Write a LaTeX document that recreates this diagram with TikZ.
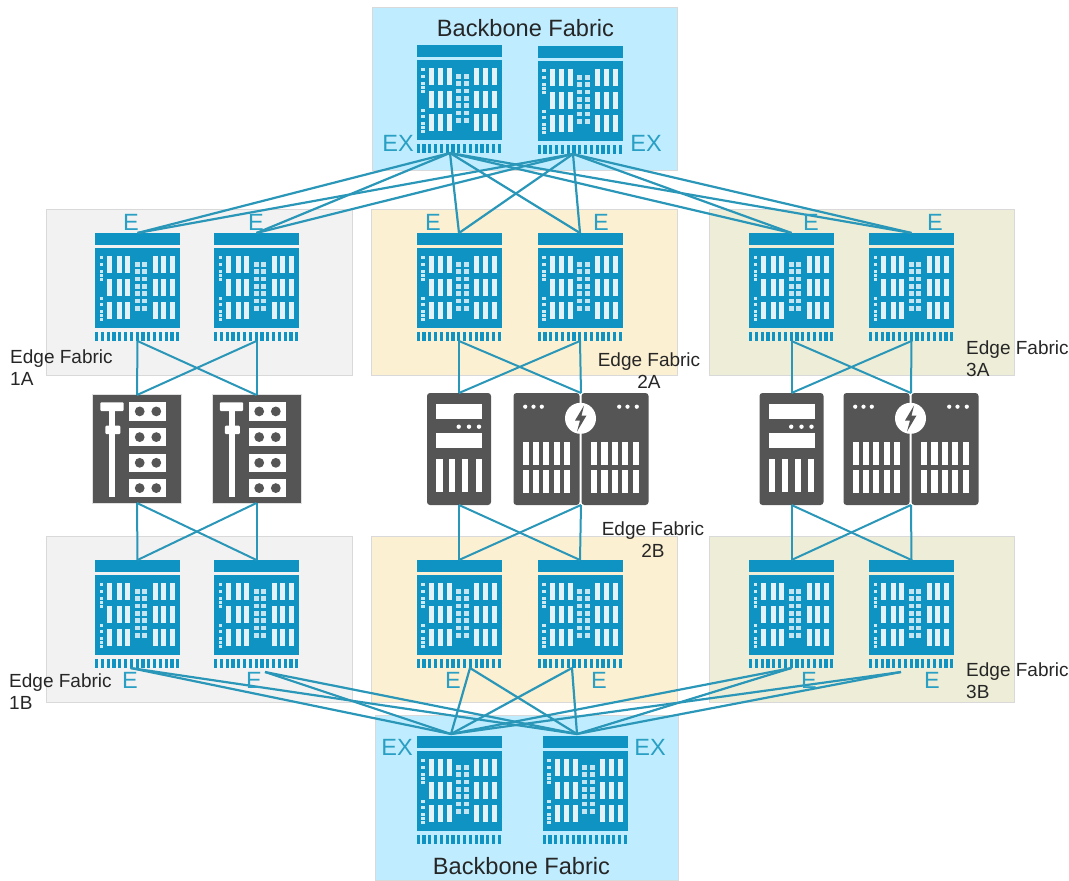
\documentclass[tikz,border=0pt]{standalone}
\usepackage{fontspec}
\setmainfont{Liberation Sans}
\definecolor{swc}{HTML}{0F93C2}
\definecolor{linkc}{HTML}{2A96B8}
\definecolor{labc}{HTML}{2A9FC4}
\definecolor{darkc}{HTML}{555555}
\definecolor{bluebg}{HTML}{BFEDFF}
\definecolor{graybg}{HTML}{F2F2F2}
\definecolor{orangebg}{HTML}{FCF0D2}
\definecolor{olivebg}{HTML}{EEEED8}
\tikzset{
  region/.style={rectangle,draw=black!15,line width=0.8pt,inner sep=0pt},
  devbox/.style={rectangle,inner sep=0pt,outer sep=0pt,minimum width=#1},
  link/.style={draw=linkc,line width=2.2pt},
  thinlink/.style={draw=linkc,line width=2pt},
  tag/.style={text=labc,font=\fontsize{23.5}{26}\selectfont,inner sep=0pt},
  fablabel/.style={text=black!85,font=\fontsize{19}{22}\selectfont,inner sep=0pt,align=left,anchor=north west},
  fabcenter/.style={text=black!85,font=\fontsize{19}{22}\selectfont,inner sep=0pt,align=center,anchor=north},
  bigtitle/.style={text=black!85,font=\fontsize{23.6}{26}\selectfont,inner sep=0pt},
  swpic/.pic={
    \fill[swc] (0,0) rectangle (85,12);
    \fill[swc] (0,15) rectangle (85,95);
    \foreach \tx in {0,5.8,...,82} \fill[swc] (\tx,99) rectangle ++(3.2,9);
    \foreach \bx in {12,21.5,30.3,57.7,66.3,75}
      \foreach \by in {23,46,69} \fill[white!88!swc] (\bx,\by) rectangle ++(5,17);
    \foreach \gx in {39.7,47.3}
      \foreach \gy in {29,36.3,43.6,50.9,58.2,65.5,72.8} \fill[white!75!swc] (\gx,\gy) rectangle ++(4.8,4.8);
    \foreach \ly/\lh in {23/2.5,30/2.5,37/3,41/3,45/3,64/2.5,70/2.5,77/3,81/3,85/3}
      \fill[white!80!swc] (4.7,\ly) rectangle ++(3.6,\lh);
  },
  rackpic/.pic={
    \fill[darkc] (0,0) rectangle (88,108);
    \draw[black!12,line width=0.8pt] (-0.6,-0.6) rectangle (88.6,108.6);
    \fill[white,rounded corners=1pt] (7.3,7.3) rectangle (30.7,16);
    \fill[white] (16.3,16) rectangle (22,101.7);
    \fill[white,rounded corners=1pt] (12.3,30.7) rectangle (27.3,39);
    \foreach \my in {7.3,33,58.7,84} {
      \fill[white] (36,\my) rectangle ++(37,18.3);
      \fill[darkc] (46.7,\my+9.1) circle (4.9);
      \fill[darkc] (63.3,\my+9.1) circle (4.9);
    }
  },
  serverpic/.pic={
    \fill[darkc,rounded corners=3pt] (0,0) rectangle (64,112);
    \fill[white] (9.3,11.3) rectangle (55,26);
    \fill[white] (9.3,40) rectangle (55,55.3);
    \foreach \dx in {31.7,42,52} \fill[white] (\dx,33.7) circle (2.2);
    \foreach \bx in {9.3,22,35,48.5} \fill[white] (\bx,66) rectangle ++(6.3,33.3);
  },
  dualpic/.pic={
    \fill[darkc,rounded corners=3pt] (0,0) rectangle (66,112);
    \fill[darkc,rounded corners=3pt] (68,0) rectangle (135,112);
    \foreach \dx in {11.7,20,28.3} \fill[white] (\dx,13.7) circle (2.1);
    \foreach \dx in {105.7,114,123.3} \fill[white] (\dx,13.7) circle (2.1);
    \foreach \bx in {9,19.3,29.3,40,50.3,77.3,87.7,98,108.3,119}
      \foreach \by in {49.3,77.3} \fill[white] (\bx,\by) rectangle ++(6.3,23);
    \fill[white] (67,25.3) circle (15.5);
    \fill[darkc] (70.5,12.5) -- (61.5,27.5) -- (66.5,27.5) -- (63.5,38.5) -- (73,22.5) -- (68,22.5) -- cycle;
  },
}
\newcommand{\swnode}[3]{%
  \node[devbox=85,minimum height=108] (#1) at (#2,#3) {};
  \pic at (#2-42.5,#3-54) {swpic};}
\newcommand{\racknode}[3]{%
  \node[devbox=88,minimum height=108] (#1) at (#2,#3) {};
  \pic at (#2-44,#3-54) {rackpic};}
\newcommand{\servernode}[3]{%
  \node[devbox=64,minimum height=112] (#1) at (#2,#3) {};
  \pic at (#2-32,#3-56) {serverpic};}
\newcommand{\dualnode}[3]{%
  \node[devbox=135,minimum height=112] (#1) at (#2,#3) {};
  \pic at (#2-67.5,#3-56) {dualpic};}
\begin{document}
\begin{tikzpicture}[x=1pt,y=-1pt]
\useasboundingbox (0,0) rectangle (1069,881);
% regions
\node[region,fill=bluebg,minimum width=305,minimum height=163] (rtop) at (524.5,88.5) {};
\node[region,fill=graybg,minimum width=306,minimum height=166] (r1a) at (199,292) {};
\node[region,fill=orangebg,minimum width=306,minimum height=166] (r2a) at (524,292) {};
\node[region,fill=olivebg,minimum width=305,minimum height=166] (r3a) at (861.5,292) {};
\node[region,fill=graybg,minimum width=306,minimum height=166] (r1b) at (199,619) {};
\node[region,fill=orangebg,minimum width=306,minimum height=166] (r2b) at (524,619) {};
\node[region,fill=olivebg,minimum width=305,minimum height=166] (r3b) at (861.5,619) {};
\node[region,fill=bluebg,minimum width=303,minimum height=165] (rbot) at (526.5,797.5) {};
% devices
\swnode{bt1}{459}{99}
\swnode{bt2}{580}{100}
\swnode{e1}{137.5}{287}
\swnode{e2}{256.5}{287}
\swnode{e3}{459}{287}
\swnode{e4}{580}{287}
\swnode{e5}{791.5}{287}
\swnode{e6}{911.5}{287}
\racknode{m1}{137}{449}
\racknode{m2}{256.5}{449}
\servernode{m3}{459}{449}
\dualnode{m4}{581}{449}
\servernode{m5}{791.5}{449}
\dualnode{m6}{911}{449}
\swnode{f1}{137.5}{614}
\swnode{f2}{256.5}{614}
\swnode{f3}{459}{614}
\swnode{f4}{580}{614}
\swnode{f5}{791.5}{614}
\swnode{f6}{911.5}{614}
\swnode{bb1}{459}{790}
\swnode{bb2}{585}{790}
% top backbone links
\foreach \t in {e1,e2,e3,e4,e5,e6} {
  \draw[link] ([xshift=-9pt]bt1.south) -- (\t.north);
  \draw[link] ([xshift=-7pt]bt2.south) -- (\t.north);
}
% edge to middle, upper
\foreach \s/\a/\b in {e1/m1/m2,e2/m1/m2,e3/m3/m4,e4/m3/m4,e5/m5/m6,e6/m5/m6} {
  \draw[thinlink] (\s.south) -- (\a.north);
  \draw[thinlink] (\s.south) -- (\b.north);
}
% middle to edge, lower
\foreach \s/\a/\b in {m1/f1/f2,m2/f1/f2,m3/f3/f4,m4/f3/f4,m5/f5/f6,m6/f5/f6} {
  \draw[thinlink] (\s.south) -- (\a.north);
  \draw[thinlink] (\s.south) -- (\b.north);
}
% bottom backbone links
\foreach \t in {bb1,bb2} {
  \draw[link] ([xshift=-7pt]f1.south) -- ([xshift=-8pt,yshift=2pt]\t.north);
  \draw[link] ([xshift=8.5pt,yshift=-4pt]f2.south) -- ([xshift=-8pt,yshift=2pt]\t.north);
  \draw[link] ([xshift=11pt]f3.south) -- ([xshift=-8pt,yshift=2pt]\t.north);
  \draw[link] ([xshift=-8pt]f4.south) -- ([xshift=-8pt,yshift=2pt]\t.north);
  \draw[link] (f5.south) -- ([xshift=-8pt,yshift=2pt]\t.north);
  \draw[link] ([xshift=-10.5pt,yshift=-4pt]f6.south) -- ([xshift=-8pt,yshift=2pt]\t.north);
}
% tags
\foreach \n/\tx in {t1/131,t2/256,t3/433,t4/601,t5/811,t6/935}
  \node[tag] (\n) at (\tx,222) {E};
\foreach \n/\tx in {u1/130,u2/254,u3/453,u4/599,u5/809,u6/932}
  \node[tag] (\n) at (\tx,680) {E};
\node[tag] (x1) at (398,143) {EX};
\node[tag] (x2) at (646,143) {EX};
\node[tag] (x3) at (397,747) {EX};
\node[tag] (x4) at (650,747) {EX};
% labels
\node[bigtitle] (title1) at (525.5,28) {Backbone Fabric};
\node[bigtitle] (title2) at (521.5,866) {Backbone Fabric};
\node[fablabel] (l1a) at (10,350) {Edge Fabric\\1A};
\node[fabcenter] (l2a) at (649,353) {Edge Fabric\\2A};
\node[fablabel] (l3a) at (966,341) {Edge Fabric\\3A};
\node[fablabel] (l1b) at (9,674) {Edge Fabric\\1B};
\node[fabcenter] (l2b) at (653,522) {Edge Fabric\\2B};
\node[fablabel] (l3b) at (966,663) {Edge Fabric\\3B};
\end{tikzpicture}
\end{document}
